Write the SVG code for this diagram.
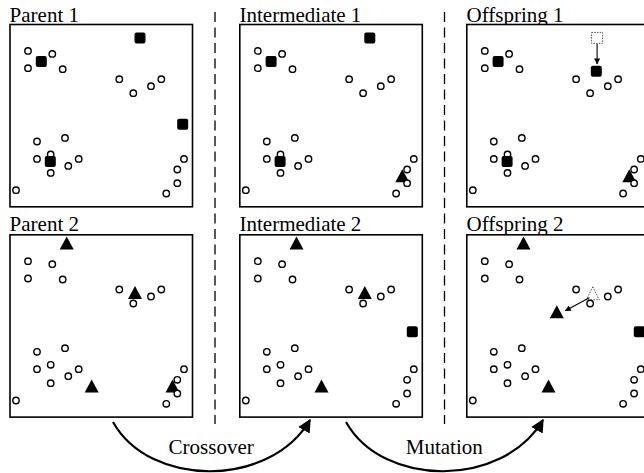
<svg xmlns="http://www.w3.org/2000/svg" xmlns:xlink="http://www.w3.org/1999/xlink" width="644" height="473" viewBox="0 0 644 473">
<style>
.lbl{font-family:"Liberation Serif","Times New Roman",serif;font-size:21px;fill:#000}
.box{fill:#fff;stroke:#000;stroke-width:1.6}
.pt{fill:#fff;stroke:#000;stroke-width:1.4}
.sq{fill:#000}
.tri{fill:#000}
.ghost{fill:none;stroke:#555;stroke-width:1;stroke-dasharray:1.5 1.2}
.sep{stroke:#000;stroke-width:1.3;stroke-dasharray:10 5.5;fill:none}
.arc{fill:none;stroke:#000;stroke-width:2.2}
.mv{fill:none;stroke:#000;stroke-width:1.1}
</style>
<defs>
<marker id="bigHead" viewBox="0 0 10 10" refX="9" refY="5" markerWidth="6" markerHeight="6" orient="auto" markerUnits="strokeWidth"><path d="M0,0 L10,5 L0,10 Z" fill="#000"/></marker>
<marker id="smallHead" viewBox="0 0 10 10" refX="9" refY="5" markerWidth="6" markerHeight="5.5" orient="auto" markerUnits="strokeWidth"><path d="M0,0 L10,5 L0,10 Z" fill="#000"/></marker>
<g id="pts">
<circle class="pt" cx="18" cy="26.4" r="3.2"/>
<circle class="pt" cx="42.3" cy="29.4" r="3.2"/>
<circle class="pt" cx="18" cy="43.7" r="3.2"/>
<circle class="pt" cx="52.7" cy="44.7" r="3.2"/>
<circle class="pt" cx="109.3" cy="54.7" r="3.2"/>
<circle class="pt" cx="123.3" cy="68.7" r="3.2"/>
<circle class="pt" cx="141" cy="61.7" r="3.2"/>
<circle class="pt" cx="151.3" cy="54.7" r="3.2"/>
<circle class="pt" cx="27" cy="117" r="3.2"/>
<circle class="pt" cx="55" cy="113.4" r="3.2"/>
<circle class="pt" cx="27" cy="134.4" r="3.2"/>
<circle class="pt" cx="40.7" cy="130" r="3.2"/>
<circle class="pt" cx="40.7" cy="148.4" r="3.2"/>
<circle class="pt" cx="58.3" cy="141.4" r="3.2"/>
<circle class="pt" cx="68.7" cy="134.4" r="3.2"/>
<circle class="pt" cx="174" cy="134.4" r="3.2"/>
<circle class="pt" cx="167.3" cy="145" r="3.2"/>
<circle class="pt" cx="167.3" cy="158.7" r="3.2"/>
<circle class="pt" cx="156.3" cy="169" r="3.2"/>
<circle class="pt" cx="6" cy="165.7" r="3.2"/>
</g>
<rect id="sqr" class="sq" x="-5.5" y="-5.5" width="11" height="11" rx="2"/>
<path id="trg" class="tri" d="M0,0 L7,13 L-7,13 Z"/>
</defs>

<g id="labels">
<text class="lbl" x="9.6" y="21.5">Parent 1</text>
<text class="lbl" x="239.5" y="21.5">Intermediate 1</text>
<text class="lbl" x="466.6" y="21.5">Offspring 1</text>
<text class="lbl" x="9.6" y="231">Parent 2</text>
<text class="lbl" x="239.5" y="231">Intermediate 2</text>
<text class="lbl" x="466.6" y="231">Offspring 2</text>
</g>

<g id="parent1" transform="translate(10,24.5)">
<rect class="box" x="0" y="0" width="182.5" height="182.3"/>
<use xlink:href="#pts" href="#pts"/>
<use href="#sqr" xlink:href="#sqr" x="31.3" y="37"/>
<use href="#sqr" xlink:href="#sqr" x="130" y="13.4"/>
<use href="#sqr" xlink:href="#sqr" x="172.7" y="99.7"/>
<use href="#sqr" xlink:href="#sqr" x="40.3" y="137"/>
</g>

<g id="parent2" transform="translate(10,234.8)">
<rect class="box" x="0" y="0" width="182.5" height="182.3"/>
<use href="#trg" xlink:href="#trg" x="56.7" y="1.8"/>
<use href="#trg" xlink:href="#trg" x="125" y="51.3"/>
<use href="#trg" xlink:href="#trg" x="81.7" y="144.8"/>
<use href="#trg" xlink:href="#trg" x="162.5" y="144.8"/>
<use xlink:href="#pts" href="#pts"/>
</g>

<g id="intermediate1" transform="translate(239.8,24.5)">
<rect class="box" x="0" y="0" width="182.5" height="182.3"/>
<use href="#trg" xlink:href="#trg" x="162.5" y="144.8"/>
<use xlink:href="#pts" href="#pts"/>
<use href="#sqr" xlink:href="#sqr" x="31.3" y="37"/>
<use href="#sqr" xlink:href="#sqr" x="130" y="13.4"/>
<use href="#sqr" xlink:href="#sqr" x="40.3" y="137"/>
</g>

<g id="intermediate2" transform="translate(239.8,234.8)">
<rect class="box" x="0" y="0" width="182.5" height="182.3"/>
<use href="#trg" xlink:href="#trg" x="56.7" y="1.8"/>
<use href="#trg" xlink:href="#trg" x="125" y="51.3"/>
<use href="#trg" xlink:href="#trg" x="81.7" y="144.8"/>
<use xlink:href="#pts" href="#pts"/>
<use href="#sqr" xlink:href="#sqr" x="172.5" y="97"/>
</g>

<g id="offspring1" transform="translate(466.8,24.5)">
<rect class="box" x="0" y="0" width="182.5" height="182.3"/>
<use href="#trg" xlink:href="#trg" x="162.5" y="144.8"/>
<use xlink:href="#pts" href="#pts"/>
<use href="#sqr" xlink:href="#sqr" x="31.3" y="37"/>
<rect class="ghost" x="124.8" y="7.9" width="11" height="11"/>
<line class="mv" x1="130.3" y1="19.5" x2="130.3" y2="39.5" marker-end="url(#smallHead)"/>
<use href="#sqr" xlink:href="#sqr" x="129.5" y="46.7"/>
<use href="#sqr" xlink:href="#sqr" x="40.3" y="137"/>
</g>

<g id="offspring2" transform="translate(466.8,234.8)">
<rect class="box" x="0" y="0" width="182.5" height="182.3"/>
<use href="#trg" xlink:href="#trg" x="56.7" y="1.8"/>
<path class="ghost" d="M126,52 L132.5,65 L119.5,65 Z"/>
<use href="#trg" xlink:href="#trg" x="90" y="70.5"/>
<use href="#trg" xlink:href="#trg" x="81.7" y="144.8"/>
<use xlink:href="#pts" href="#pts"/>
<line class="mv" x1="122.5" y1="63" x2="98.5" y2="76" marker-end="url(#smallHead)"/>
<use href="#sqr" xlink:href="#sqr" x="172.5" y="97"/>
</g>

<g id="connectors">
<line class="sep" x1="215" y1="12" x2="215" y2="424"/>
<line class="sep" x1="444.5" y1="12" x2="444.5" y2="424"/>
<path class="arc" d="M113,422 C150,488 270,488 310,420" marker-end="url(#bigHead)"/>
<path class="arc" d="M346,422 C383,488 503,488 543,420" marker-end="url(#bigHead)"/>
<text class="lbl" x="211.2" y="454.3" text-anchor="middle">Crossover</text>
<text class="lbl" x="444.3" y="454.3" text-anchor="middle">Mutation</text>
</g>
</svg>
